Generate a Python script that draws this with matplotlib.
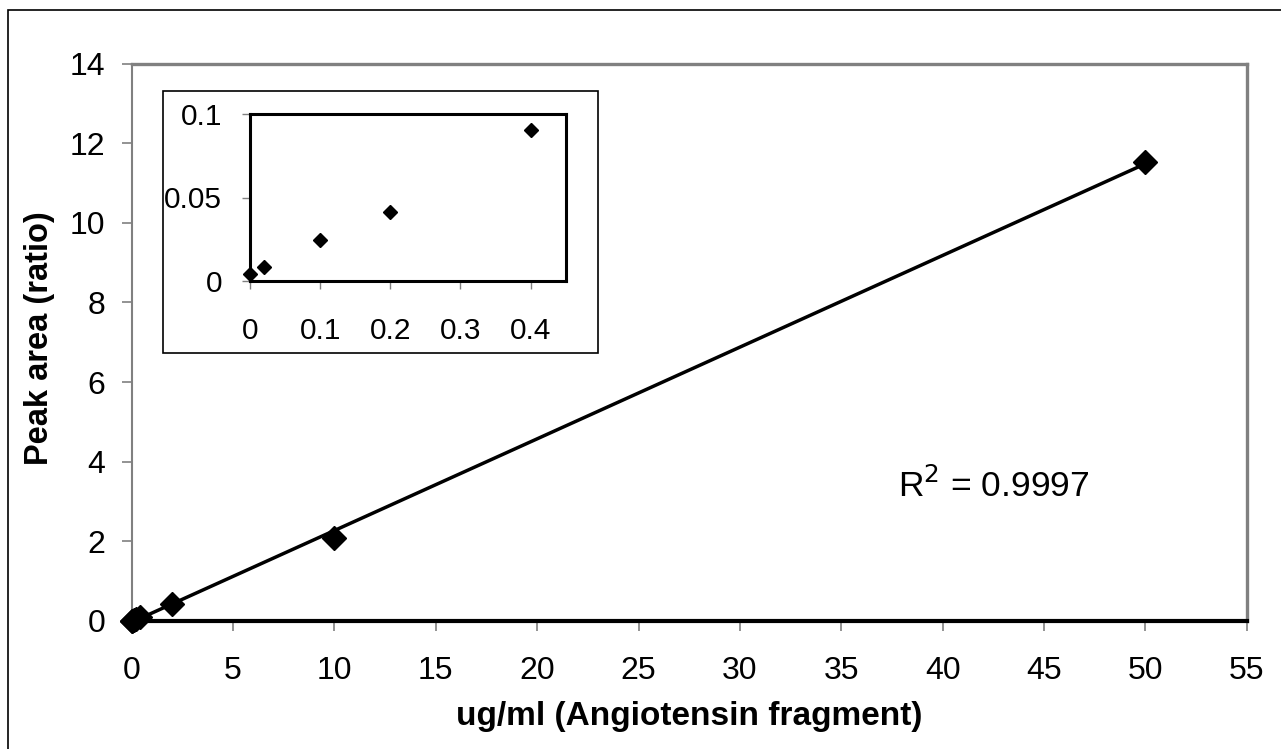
#!/usr/bin/env python3
# -*- coding: utf-8 -*-
"""Calibration curve for the angiotensin fragment, with a low-range inset."""

import numpy as np
import matplotlib
matplotlib.use("Agg")
import matplotlib.pyplot as plt
from matplotlib.patches import Rectangle

plt.rcParams['font.family'] = ['Liberation Sans', 'DejaVu Sans']

# Standards (ug/ml) and measured peak-area ratios
conc = [0, 0.02, 0.1, 0.2, 0.4, 2, 10, 50]
ratio = [0.004, 0.0086, 0.0246, 0.0415, 0.0904, 0.43, 2.08, 11.52]

# Low-range points shown in the inset
low_conc = conc[:5]
low_ratio = ratio[:5]

r_squared = "0.9997"
x_ticks = list(range(0, 60, 5))
y_ticks = list(range(0, 16, 2))
inset_x_ticks = [0, 0.1, 0.2, 0.3, 0.4]
inset_x_labels = ["0", "0.1", "0.2", "0.3", "0.4"]
inset_y_ticks = [0, 0.05, 0.1]
inset_y_labels = ["0", "0.05", "0.1"]

GRAY = "#808080"
W, H = 1281, 749


def fx(px):
    return px / W


def fy(py):
    return 1 - py / H


fig = plt.figure(figsize=(W / 100, H / 100), dpi=100)

# outer chart border
fig.patches.append(Rectangle((fx(8), -0.1), 1.2, fy(10) + 0.1, transform=fig.transFigure,
                             fill=False, edgecolor="black", linewidth=1.2))

ax = fig.add_axes([fx(131.7), fy(621), fx(1246.7) - fx(131.7), fy(63.5) - fy(621)])

# linear trend line through the standards
slope, intercept = np.polyfit(conc, ratio, 1)
xs = np.array([min(conc), max(conc)])
ax.plot(xs, slope * xs + intercept, color="black", linewidth=2.5, zorder=3)
ax.plot(conc, ratio, linestyle="none", marker="D", markersize=12,
        color="black", clip_on=False, zorder=4)

ax.set_xlim(0, 55)
ax.set_ylim(0, 14)
ax.set_xticks(x_ticks)
ax.set_yticks(y_ticks)
ax.tick_params(axis="both", direction="out", length=7, width=1.2, color=GRAY,
               labelsize=23)
ax.tick_params(axis="x", pad=18)
ax.tick_params(axis="y", pad=12)
for side in ["top", "right", "left"]:
    ax.spines[side].set_color(GRAY)
    ax.spines[side].set_linewidth(2.4)
ax.spines["left"].set_linewidth(1.5)
ax.spines["bottom"].set_color("black")
ax.spines["bottom"].set_linewidth(3)
ax.spines["bottom"].set_zorder(5)

# axis titles
fig.text(fx(689), fy(716), "ug/ml (Angiotensin fragment)", fontsize=24,
         fontweight="bold", ha="center", va="center")
fig.text(fx(40), fy(338), "Peak area (ratio)", fontsize=23.5, fontweight="bold",
         rotation=90, ha="center", va="center")

fig.text(fx(898), fy(497), r"R$^{2}$ = " + r_squared, fontsize=25.5,
         ha="left", va="baseline")

# inset box with the low concentration standards
fig.patches.append(Rectangle((fx(163), fy(353)), fx(598) - fx(163), fy(91) - fy(353),
                             transform=fig.transFigure, facecolor="white",
                             edgecolor="black", linewidth=1.2, zorder=2))
ins = fig.add_axes([fx(250), fy(281), fx(565.7) - fx(250), fy(114) - fy(281)])
ins.set_zorder(10)
ins.plot(low_conc, low_ratio, linestyle="none", marker="D", markersize=7,
         color="black", clip_on=False)
ins.set_xlim(0, 0.45)
ins.set_ylim(0, 0.1)
ins.set_xticks(inset_x_ticks)
ins.set_xticklabels(inset_x_labels)
ins.set_yticks(inset_y_ticks)
ins.set_yticklabels(inset_y_labels)
ins.tick_params(axis="both", direction="out", length=6, width=1.0, color=GRAY,
                labelsize=21.5)
ins.tick_params(axis="x", pad=20)
ins.tick_params(axis="y", pad=14)
for side in ins.spines:
    ins.spines[side].set_color("black")
    ins.spines[side].set_linewidth(2.2)

fig.savefig("out.png", dpi=100)
